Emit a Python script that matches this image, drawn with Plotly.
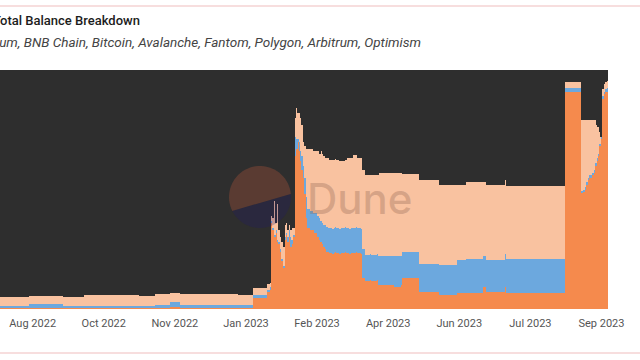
import numpy as np
import pandas as pd
import plotly.graph_objects as go

START_DATE = "2022-07-24"

# Share of total balance per day (percent), bottom to top of the stack
ORANGE = [
    0.3,0.3,0.3,0.3,0.3,0.3,0.3,0.3,0.3,0.3,
    0.3,0.3,0.3,0.3,0.3,0.3,0.3,0.3,0.3,0.3,
    0.6,0.6,0.6,0.6,0.6,0.6,0.6,0.6,0.6,0.6,
    0.6,0.6,0.6,0.6,0.6,0.6,0.6,0.6,0.6,0.6,
    0.6,0.6,0.6,0.6,
    0.3,0.3,0.3,0.3,0.3,0.3,0.3,0.3,0.3,0.3,
    0.3,0.3,0.3,0.3,0.3,0.3,0.3,0.3,0.3,0.3,
    0.3,0.3,0.3,0.3,0.3,0.3,0.3,0.3,0.3,0.3,
    0.3,0.3,0.3,0.3,0.3,0.3,0.3,0.3,0.3,0.3,
    0.3,0.3,0.3,0.3,0.3,0.3,0.3,0.3,0.3,0.3,
    0.3,0.3,0.3,0.3,0.3,0.3,0.3,0.3,0.3,0.3,
    0.3,0.3,0.3,0.3,0.3,0.3,0.3,0.3,0.3,0.3,
    0.3,0.3,0.3,
    0.8,0.8,0.8,0.8,0.8,0.8,0.8,
    0.3,0.3,0.3,0.3,0.3,0.3,0.3,0.3,0.3,0.3,
    0.3,0.3,0.3,0.3,0.3,0.3,0.3,0.3,0.3,0.3,
    0.3,0.3,0.3,0.3,0.3,0.3,0.3,0.3,0.3,0.3,
    0.3,0.3,0.3,0.3,0.3,0.3,0.3,0.3,0.3,0.3,
    0.3,0.3,0.3,0.3,0.3,0.3,0.3,0.3,0.3,0.3,
    4.6,4.6,4.6,4.6,4.6,4.6,4.6,4.6,4.6,4.6,
    7,7,
    8,36,33,30,32,28,27,24,20,17,29,31,28,30,26,27,30,64,67,70,66,62,58,55,48,38,
    34,34,33,33,33,32,32,30,29,28,27,26,25,24,24,
    23.5,23.5,23,23.5,24,23.5,23.5,23,23.5,23.5,
    23.5,24,23.5,23.5,23,23.5,23.5,23.5,24,23.5,
    23.5,23.5,23,
    13,13,
    11.7,11.5,11.7,12,11.7,11.5,11.7,11.7,12,
    10,10,10,10,10,10,10,10,10,10,10,9,9,9,9,10,
    13,13,13,13,13,13,13,13,13,13,13,13,
    7,7,7,7,7,7,7,7,7,7,7,7,7,7,
    6,6,6,6,6,6,6,6,6,6,6,6,
    6.7,6.7,6.7,6.7,6.7,6.7,
    6.7,6.7,6.7,6.7,6.7,6.7,6.7,6.7,6.7,6.7,6.7,6.7,
    9,9,
    7,7,7,7,7,7,7,7,7,7,7,7,7,
    9,
    6.7,6.7,6.7,6.7,6.7,6.7,6.7,6.7,6.7,6.7,
    6.7,6.7,6.7,6.7,6.7,6.7,6.7,6.7,6.7,6.7,
    6.7,6.7,6.7,6.7,6.7,6.7,6.7,6.7,6.7,6.7,
    6.7,6.7,6.7,6.7,6.7,6.7,6.7,6.7,6.7,6.7,
    91,91,91,91,91,91,91,91,91,91,91,91,
    48.5,49,50,52,54,55,55,56,57,60,62,64,68,71,88,90,91,91,
]

BLUE = [
    1.0,1.0,1.0,1.0,1.0,1.0,1.0,1.0,1.0,1.0,
    1.0,1.0,1.0,1.0,1.0,1.0,1.0,1.0,1.0,1.0,
    1.3,1.3,1.3,1.3,1.3,1.3,1.3,1.3,1.3,1.3,
    1.3,1.3,1.3,1.3,1.3,1.3,1.3,1.3,1.3,1.3,
    1.3,1.3,1.3,1.3,
    1.1,1.1,1.1,1.1,1.1,1.1,1.1,1.1,1.1,1.1,
    1.1,1.1,1.1,1.1,1.1,1.1,1.1,1.1,1.1,1.1,
    1.1,1.1,1.1,1.1,1.1,1.1,1.1,1.1,1.1,1.1,
    1.1,1.1,1.1,1.1,1.1,1.1,1.1,1.1,1.1,1.1,
    1.1,1.1,1.1,1.1,1.1,1.1,1.1,1.1,1.1,1.1,
    1.1,1.1,1.1,1.1,1.1,1.1,1.1,1.1,1.1,1.1,
    1.1,1.1,1.1,
    1.2,1.2,1.2,1.2,1.2,1.2,1.2,1.2,1.2,1.2,
    2.1,2.1,2.1,2.1,2.1,2.1,2.1,
    1.2,1.2,1.2,1.2,1.2,1.2,1.2,1.2,1.2,1.2,
    1.2,1.2,1.2,1.2,1.2,1.2,1.2,1.2,1.2,1.2,
    1.2,1.2,1.2,1.2,1.2,1.2,1.2,1.2,1.2,1.2,
    1.2,1.2,1.2,1.2,1.2,1.2,1.2,1.2,1.2,1.2,
    1.2,1.2,1.2,1.2,1.2,1.2,1.2,1.2,1.2,1.2,
    1.3,1.3,1.3,1.3,1.3,1.3,1.3,1.3,1.3,1.3,
    1,1,
    1,1,1,1,1,1,1,1,1,1,1,1,2,3,4,2,1,8,4,1,4,4,6,5,7,9,
    8,8,8,8,7,8,8,9,9,9,9,9,10,10.5,10,
    10.5,10.5,10.5,10.5,10.5,10.5,10.5,10.5,10.5,10.5,
    10.5,10.5,10.5,10.5,10.5,10.5,10.5,10.5,10.5,10.5,
    10.5,10.5,10.5,
    12,12,
    10.9,10.9,10.9,10.9,10.9,10.9,10.9,10.9,10.9,
    12,12,12,12,12,12,12,12,12,12,12,13,13,13,13,12,
    11,11,11,11,11,11,11,11,11,11,11,11,
    12,12,12,12,12,12,12,12,12,12,12,12,12,12,
    12.5,12.5,12.5,12.5,12.5,12.5,12.5,12.5,12.5,12.5,12.5,12.5,
    13.8,13.8,13.8,13.8,13.8,13.8,
    14.3,14.3,14.3,14.3,14.3,14.3,14.3,14.3,14.3,14.3,14.3,14.3,
    13,13,
    13.5,13.5,13.5,13.5,13.5,13.5,13.5,13.5,13.5,13.5,13.5,13.5,13.5,
    14,
    14.3,14.3,14.3,14.3,14.3,14.3,14.3,14.3,14.3,14.3,
    14.3,14.3,14.3,14.3,14.3,14.3,14.3,14.3,14.3,14.3,
    14.3,14.3,14.3,14.3,14.3,14.3,14.3,14.3,14.3,14.3,
    14.3,14.3,14.3,14.3,14.3,14.3,14.3,14.3,14.3,14.3,
    1.5,1.5,1.5,1.5,1.5,1.5,1.5,1.5,1.5,1.5,1.5,1.5,
    1,1,1,1,1,1,1,1,1,1,1,1,1,1,1,1,1,1.5,
]

PEACH = [
    3.6,3.6,3.6,3.6,3.6,3.6,3.6,3.6,3.6,3.6,
    3.6,3.6,3.6,3.6,3.6,3.6,3.6,3.6,3.6,3.6,
    3.7,3.7,3.7,3.7,3.7,3.7,3.7,3.7,3.7,3.7,
    3.7,3.7,3.7,3.7,3.7,3.7,3.7,3.7,3.7,3.7,
    3.7,3.7,3.7,3.7,
    3.6,3.6,3.6,3.6,3.6,3.6,3.6,3.6,3.6,3.6,3.6,3.6,3.6,3.6,
    4.6,4.6,4.6,4.6,4.6,4.6,4.6,4.6,4.6,4.6,
    4.6,4.6,4.6,4.6,4.6,4.6,4.6,4.6,4.6,4.6,
    4.6,4.6,4.6,4.6,4.6,4.6,4.6,4.6,4.6,4.6,
    4.6,4.6,4.6,4.6,4.6,4.6,4.6,4.6,
    3.9,3.9,3.9,3.9,3.9,3.9,3.9,3.9,3.9,3.9,3.9,
    4.8,4.8,4.8,4.8,4.8,4.8,4.8,4.8,4.8,4.8,
    4.0,4.0,4.0,4.0,4.0,4.0,4.0,
    4.8,4.8,4.8,4.8,4.8,4.8,4.8,4.8,4.8,4.8,
    4.8,4.8,4.8,4.8,4.8,4.8,4.8,4.8,4.8,4.8,
    4.8,4.8,4.8,4.8,4.8,4.8,4.8,4.8,4.8,4.8,
    4.8,4.8,4.8,4.8,4.8,4.8,4.8,4.8,4.8,4.8,
    4.4,4.4,4.4,4.4,4.4,4.4,4.4,4.4,4.4,4.4,
    2.9,2.9,2.9,2.9,2.9,2.9,2.9,2.9,2.9,2.9,
    2.5,2.5,
    2,2,4,14,3,15,5,5,7,8,5,4,3,2,3,5,3,8,13,11,12,14,13,10,13,20,
    25,25,26,26,26,26,26,27,27,29,29,29,28,28.5,29,
    28.5,28.5,28.5,28.5,28.5,28.5,28.5,
    28,28,28,28,28,
    29.3,29.3,29.3,29.3,30.3,30.3,30.3,29.3,29.3,29.3,29.3,
    33,33,
    33.4,33.4,33.4,33.4,33.4,33.4,33.4,33.4,33.4,
    35,35,35,35,35,35,35,35,35,35,35,35,35,35,35,35,
    32.5,32.5,32.5,32.5,32.5,32.5,32.5,32.5,32.5,32.5,32.5,32.5,
    35,35,35,35,35,35,35,35,35,35,35,35,35,35,
    33.5,33.5,33.5,33.5,33.5,33.5,33.5,33.5,33.5,33.5,33.5,33.5,
    31.5,31.5,31.5,31.5,31.5,31.5,
    32,32,32,32,32,32,32,32,32,32,32,32,
    31,31,
    31.5,31.5,31.5,31.5,31.5,31.5,31.5,31.5,31.5,31.5,31.5,31.5,31.5,
    31,
    30.5,30.5,30.5,30.5,30.5,30.5,30.5,30.5,30.5,30.5,
    30.5,30.5,30.5,30.5,30.5,30.5,30.5,30.5,30.5,30.5,
    30.5,30.5,30.5,30.5,30.5,30.5,30.5,30.5,30.5,30.5,
    30.5,30.5,30.5,30.5,30.5,30.5,30.5,30.5,30.5,30.5,
    2.5,2.5,2.5,2.5,2.5,2.5,2.5,2.5,2.5,2.5,2.5,2.5,
    29.5,29,28,26,24,23,23,22,21,18,14,11,5,0,3,3,3,3,
]

DARK = [
    95.1,95.1,95.1,95.1,95.1,95.1,95.1,95.1,95.1,95.1,
    95.1,95.1,95.1,95.1,95.1,95.1,95.1,95.1,95.1,95.1,
    94.4,94.4,94.4,94.4,94.4,94.4,94.4,94.4,94.4,94.4,
    94.4,94.4,94.4,94.4,94.4,94.4,94.4,94.4,94.4,94.4,
    94.4,94.4,94.4,94.4,
    95.0,95.0,95.0,95.0,95.0,95.0,95.0,95.0,95.0,95.0,95.0,95.0,95.0,95.0,
    94.0,94.0,94.0,94.0,94.0,94.0,94.0,94.0,94.0,94.0,
    94.0,94.0,94.0,94.0,94.0,94.0,94.0,94.0,94.0,94.0,
    94.0,94.0,94.0,94.0,94.0,94.0,94.0,94.0,94.0,94.0,
    94.0,94.0,94.0,94.0,94.0,94.0,94.0,94.0,
    94.7,94.7,94.7,94.7,94.7,94.7,94.7,94.7,94.7,94.7,94.7,
    93.7,93.7,93.7,93.7,93.7,93.7,93.7,93.7,93.7,93.7,
    93.1,93.1,93.1,93.1,93.1,93.1,93.1,
    93.7,93.7,93.7,93.7,93.7,93.7,93.7,93.7,93.7,93.7,
    93.7,93.7,93.7,93.7,93.7,93.7,93.7,93.7,93.7,93.7,
    93.7,93.7,93.7,93.7,93.7,93.7,93.7,93.7,93.7,93.7,
    93.7,93.7,93.7,93.7,93.7,93.7,93.7,93.7,93.7,93.7,
    94.1,94.1,94.1,94.1,94.1,94.1,94.1,94.1,94.1,94.1,
    91.2,91.2,91.2,91.2,91.2,91.2,91.2,91.2,91.2,91.2,
    89.5,89.5,
    89,61,62,55,64,56,67,70,72,74,65,64,67,65,67,66,66,20,16,18,18,20,23,30,32,33,
    33,33,33,33,34,34,34,34,35,34,35,36,37,37,37,
    37.5,37.5,37.5,37.5,37.5,37.5,37.5,
    38,38,38,38,38,
    36.7,36.7,36.7,36.7,35.7,35.7,35.7,36.7,36.7,36.7,36.7,
    42,42,
    44,44,44,44,44,44,44,44,44,
    43,43,43,43,43,43,43,43,43,43,43,43,43,43,43,43,
    43.5,43.5,43.5,43.5,43.5,43.5,43.5,43.5,43.5,43.5,43.5,43.5,
    46,46,46,46,46,46,46,46,46,46,46,46,46,46,
    48,48,48,48,48,48,48,48,48,48,48,48,
    48,48,48,48,48,48,
    47,47,47,47,47,47,47,47,47,47,47,47,
    47,47,
    48,48,48,48,48,48,48,48,48,48,48,48,48,
    46,
    48.5,48.5,48.5,48.5,48.5,48.5,48.5,48.5,48.5,48.5,
    48.5,48.5,48.5,48.5,48.5,48.5,48.5,48.5,48.5,48.5,
    48.5,48.5,48.5,48.5,48.5,48.5,48.5,48.5,48.5,48.5,
    48.5,48.5,48.5,48.5,48.5,48.5,48.5,48.5,48.5,48.5,
    5,5,5,5,5,5,5,5,5,5,5,5,
    21,21,21,21,21,21,21,21,21,21,23,24,26,28,8,6,5,4.5,
]

TICK_DATES = ["2022-08-15", "2022-10-03", "2022-11-21", "2023-01-09", "2023-02-27",
              "2023-04-17", "2023-06-05", "2023-07-24", "2023-09-11"]
TICK_LABELS = ["Aug 2022", "Oct 2022", "Nov 2022", "Jan 2023", "Feb 2023",
               "Apr 2023", "Jun 2023", "Jul 2023", "Sep 2023"]

SERIES = [("Arbitrum", ORANGE, "#F58A4D"),
          ("Optimism", BLUE, "#6CA8DE"),
          ("BNB Chain", PEACH, "#F9C2A0"),
          ("Ethereum", DARK, "#2E2E2E")]

n = len(ORANGE)
for _, vals, _ in SERIES:
    assert len(vals) == n, len(vals)
dates = pd.date_range(START_DATE, periods=n, freq="D")

fig = go.Figure()
for name, vals, color in SERIES:
    fig.add_trace(go.Bar(x=dates, y=vals, name=name, marker_color=color,
                         marker_line_width=0))

PLOT_L, PLOT_R, PLOT_T, PLOT_B = 0, 608, 70, 309
W, H = 640, 360
def px2paper(px, py):
    return (px - PLOT_L) / (PLOT_R - PLOT_L), (PLOT_B - py) / (PLOT_B - PLOT_T)

# Dune logo watermark (circle split into two tinted parts)
cx, cy, r = 260, 197, 31
a1, a2 = np.deg2rad(5.5), np.deg2rad(206.6)
def arc_path(t0, t1):
    ts = np.linspace(t0, t1, 40)
    pts = [px2paper(cx + r*np.cos(t), cy - r*np.sin(t)) for t in ts]
    return "M " + " L ".join(f"{x:.5f},{y:.5f}" for x, y in pts) + " Z"

shapes = [
    dict(type="path", xref="paper", yref="paper", path=arc_path(a1, a2),
         fillcolor="rgba(225,100,65,0.25)", line_width=0, layer="above"),
    dict(type="path", xref="paper", yref="paper", path=arc_path(a2, a1 + 2*np.pi),
         fillcolor="rgba(30,25,110,0.25)", line_width=0, layer="above"),
]
# card border lines
for yy in (6, 353):
    _, yp = px2paper(0, yy)
    shapes.append(dict(type="line", xref="paper", yref="paper", x0=-0.1, x1=1.2,
                       y0=yp, y1=yp, line=dict(color="#F7DEDE", width=2), layer="above"))

tx, ty = px2paper(-9, 20)
sx, sy = px2paper(-39.8, 42)
dx, dy = px2paper(360, 198)
annotations = [
    dict(text="Total Balance Breakdown", xref="paper", yref="paper", x=tx, y=ty,
         xanchor="left", yanchor="middle", showarrow=False,
         font=dict(family="Roboto", size=13, color="#1c1c1c", weight=500)),
    dict(text="<i>Ethereum, BNB Chain, Bitcoin, Avalanche, Fantom, Polygon, Arbitrum, Optimism</i>",
         xref="paper", yref="paper", x=sx, y=sy, xanchor="left", yanchor="middle",
         showarrow=False, font=dict(family="Roboto", size=13.5, color="#444444")),
    dict(text="Dune", xref="paper", yref="paper", x=dx, y=dy, xanchor="center",
         yanchor="middle", showarrow=False,
         font=dict(family="Inter", size=42, color="rgba(150,105,85,0.35)", weight=500)),
]

fig.update_layout(
    width=W, height=H,
    margin=dict(l=PLOT_L, r=W - PLOT_R, t=PLOT_T, b=H - PLOT_B, pad=0),
    barmode="stack", barnorm="percent", bargap=0.12,
    paper_bgcolor="white", plot_bgcolor="white",
    showlegend=False,
    shapes=shapes, annotations=annotations,
    xaxis=dict(type="date",
               range=[dates[0] - pd.Timedelta(hours=12), dates[-1] + pd.Timedelta(hours=12)],
               tickvals=pd.to_datetime(TICK_DATES), ticktext=TICK_LABELS,
               showgrid=False, zeroline=False, showline=False, ticks="",
               ticklabelstandoff=6,
               tickfont=dict(family="Roboto", size=11, color="#555555")),
    yaxis=dict(range=[0, 100], visible=False),
)

fig.write_html("out.html", config={"displayModeBar": False},
               post_script="document.body.style.margin='0';")
